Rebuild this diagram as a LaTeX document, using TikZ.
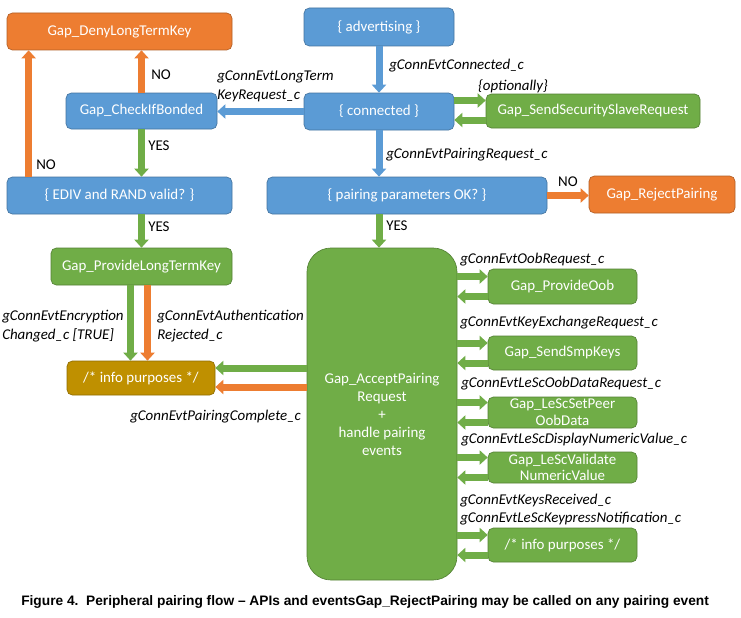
\documentclass[tikz,border=0pt]{standalone}
\usepackage{fontspec}
\setmainfont{Carlito}
\newfontfamily\captionfont{Liberation Sans}
\usetikzlibrary{positioning, calc}
\usetikzlibrary{arrows.meta}
\definecolor{color1}{RGB}{91,155,213}
\definecolor{color2}{RGB}{237,125,49}
\definecolor{color3}{RGB}{112,173,71}
\definecolor{color4}{RGB}{191,144,0}

\begin{document}
\begin{tikzpicture}[
    x=0.75pt, y=-0.75pt,
    basebox/.style={rectangle, rounded corners=4pt, text=white, align=center, inner sep=1pt, line width=0.5pt, font=\fontsize{11.2}{13}\selectfont},
    bluebox/.style={basebox, fill=color1, draw=color1!75!black},
    orangebox/.style={basebox, fill=color2, draw=color2!75!black},
    greenbox/.style={basebox, fill=color3, draw=color3!75!black},
    goldbox/.style={basebox, fill=color4, draw=color4!75!black},
    evt/.style={font=\itshape\fontsize{11.2}{14}\selectfont, inner sep=0pt, align=left, anchor=west},
    ans/.style={font=\fontsize{11.2}{13}\selectfont, inner sep=0pt, anchor=west},
    barrow/.style={line width=5.25pt, -{Triangle[width=10.5pt, length=6pt]}}
]
\path[use as bounding box, fill=white] (0,0) rectangle (741,617);

% 左侧模块
\node[orangebox, minimum width=168.75pt, minimum height=27.75pt] (deny) at (119.5,31.5) {Gap\_DenyLongTermKey};
\node[bluebox, minimum width=113.25pt, minimum height=27pt] (bonded) at (141.5,111) {Gap\_CheckIfBonded};
\node[bluebox, minimum width=168.75pt, minimum height=27.75pt] (ediv) at (119.5,195.5) {\{ EDIV and RAND valid? \}};
\node[greenbox, minimum width=135.75pt, minimum height=27.75pt] (provide) at (141.5,266.5) {Gap\_ProvideLongTermKey};
\node[goldbox, minimum width=111pt, minimum height=25.5pt] (infoL) at (141,378) {/* info purposes */};

% 中间模块
\node[bluebox, minimum width=112.5pt, minimum height=28.5pt] (adv) at (379,27) {\{ advertising \}};
\node[bluebox, minimum width=112.5pt, minimum height=27.75pt] (conn) at (379,111.5) {\{ connected \}};
\node[bluebox, minimum width=210pt, minimum height=27.75pt] (params) at (407,195.5) {\{ pairing parameters OK? \}};
\node[greenbox, rounded corners=18pt, minimum width=112.5pt, minimum height=249pt, font=\fontsize{11.2}{13.5}\selectfont] (accept) at (382,414) {Gap\_AcceptPairing\\Request\\+\\handle pairing\\events};

% 右侧模块
\node[greenbox, minimum width=160.5pt, minimum height=25.5pt] (slave) at (593,111) {Gap\_SendSecuritySlaveRequest};
\node[orangebox, minimum width=109.5pt, minimum height=27.75pt] (reject) at (662,194.5) {Gap\_RejectPairing};
\node[greenbox, minimum width=111.75pt, minimum height=26.25pt] (oob) at (562.5,286.5) {Gap\_ProvideOob};
\node[greenbox, minimum width=111.75pt, minimum height=25.5pt] (smp) at (562.5,353) {Gap\_SendSmpKeys};
\node[greenbox, minimum width=111.75pt, minimum height=23.25pt, inner ysep=0pt, font=\fontsize{11.2}{12.5}\selectfont] (peer) at (562.5,412.5) {Gap\_LeScSetPeer\\OobData};
\node[greenbox, minimum width=111.75pt, minimum height=23.25pt, inner ysep=0pt, font=\fontsize{11.2}{12.5}\selectfont] (validate) at (562.5,467.5) {Gap\_LeScValidate\\NumericValue};
\node[greenbox, minimum width=111.75pt, minimum height=25.5pt] (infoR) at (562.5,545) {/* info purposes */};

% 连接线
\draw[barrow, color1] (adv) -- (conn);
\draw[barrow, color1] (conn.south) -- (conn.south |- params.north);
\draw[barrow, color1] (conn.west) -- (conn.west -| bonded.east);
\draw[barrow, color2] (bonded.north) -- (bonded.north |- deny.south);
\draw[barrow, color3] (bonded.south) -- (bonded.south |- ediv.north);
\coordinate (ediv_no) at ($(ediv.north west)+(22,0)$);
\draw[barrow, color2] (ediv_no) -- (ediv_no |- deny.south);
\draw[barrow, color3] (provide.north |- ediv.south) -- (provide.north);
\draw[barrow, color3] ($(provide.south)+(-11,0)$) -- ($(provide.south |- infoL.north)+(-11,0)$);
\draw[barrow, color2] ($(provide.south)+(6,0)$) -- ($(provide.south |- infoL.north)+(6,0)$);
\draw[barrow, color3] ($(accept.west |- infoL.east)+(0,-10)$) -- ($(infoL.east)+(0,-10)$);
\draw[barrow, color2] ($(accept.west |- infoL.east)+(0,9)$) -- ($(infoL.east)+(0,9)$);
\draw[barrow, color3] ($(conn.east)+(0,-11)$) -- ($(slave.west |- conn.east)+(0,-11)$);
\draw[barrow, color3] ($(slave.west)+(0,9)$) -- ($(conn.east |- slave.west)+(0,9)$);
\draw[barrow, color2] (params.east) -- (params.east -| reject.west);
\draw[barrow, color3] (conn.south |- params.south) -- (conn.south |- accept.north);
\foreach \n in {oob, smp, peer, validate, infoR} {
    \draw[barrow, color3] ($(accept.east |- \n.west)+(0,-10)$) -- ($(\n.west)+(0,-10)$);
    \draw[barrow, color3] ($(\n.west)+(0,10)$) -- ($(accept.east |- \n.west)+(0,10)$);
}

% 事件标签
\node[evt] (evt_connected) at (389,66) {gConnEvtConnected\_c};
\node[evt, anchor=center] (evt_optional) at (513,86) {\{optionally\}};
\node[evt] (evt_ltk) at (217,86.5) {gConnEvtLongTerm\\KeyRequest\_c};
\node[evt] (evt_pairreq) at (386,155) {gConnEvtPairingRequest\_c};
\node[evt] (evt_enc) at (2,326) {gConnEvtEncryption\\Changed\_c [TRUE]};
\node[evt] (evt_auth) at (157,326) {gConnEvtAuthentication\\Rejected\_c};
\node[evt] (evt_complete) at (130,417) {gConnEvtPairingComplete\_c};
\node[evt] (evt_oob) at (460,260) {gConnEvtOobRequest\_c};
\node[evt] (evt_keyx) at (460,323) {gConnEvtKeyExchangeRequest\_c};
\node[evt] (evt_oobdata) at (461,384) {gConnEvtLeScOobDataRequest\_c};
\node[evt] (evt_numeric) at (461,440) {gConnEvtLeScDisplayNumericValue\_c};
\node[evt] (evt_keys) at (460,501) {gConnEvtKeysReceived\_c};
\node[evt] (evt_keypress) at (460,519) {gConnEvtLeScKeypressNotification\_c};

% YES/NO 标签
\node[ans] (no_bonded) at (151,75) {NO};
\node[ans] (yes_bonded) at (148,146) {YES};
\node[ans] (no_ediv) at (36,165) {NO};
\node[ans] (yes_ediv) at (148,227) {YES};
\node[ans, anchor=center] (no_params) at (568,182) {NO};
\node[ans] (yes_params) at (386,226) {YES};

% 图标题
\node[anchor=west, inner sep=0pt, font=\captionfont\bfseries\fontsize{10.3}{12}\selectfont] (caption) at (21,602) {Figure 4.\ \ Peripheral pairing flow – APIs and eventsGap\_RejectPairing may be called on any pairing event};

\end{tikzpicture}
\end{document}
